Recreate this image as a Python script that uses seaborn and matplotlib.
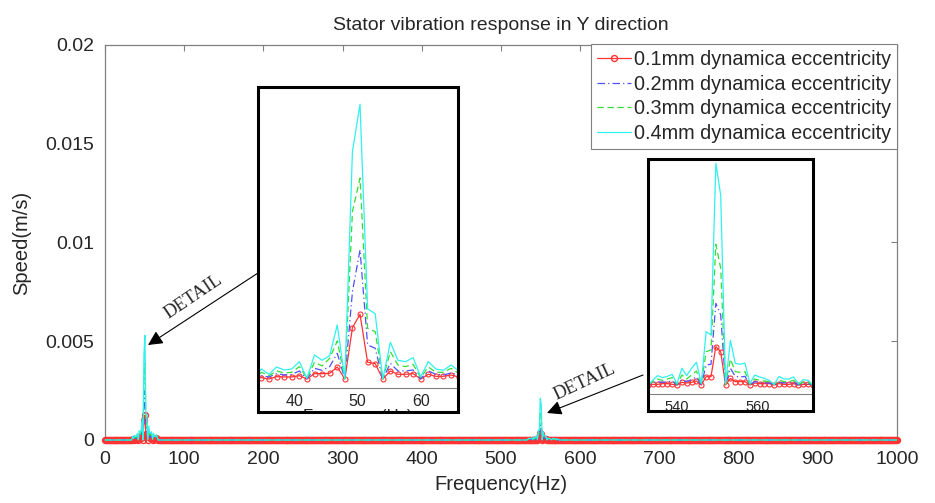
import numpy as np
import pandas as pd
import matplotlib
matplotlib.use('Agg')
import matplotlib.pyplot as plt
import matplotlib.patches as mpatches
from matplotlib.transforms import Bbox, TransformedBbox
import seaborn as sns

sns.set_style('white')
plt.rcParams['font.family'] = ['Liberation Sans', 'DejaVu Sans']

# spectrum resolution 1.2 Hz, 0 .. 999.6 Hz; speed is ~0 outside the two peaks
df_hz = 1.2
n_bins = 834

labels = ['0.1mm dynamica eccentricity', '0.2mm dynamica eccentricity',
          '0.3mm dynamica eccentricity', '0.4mm dynamica eccentricity']

# peak near 50 Hz, values in um/s
freq_50 = [34.8, 36.0, 37.2, 38.4, 39.6, 40.8, 42.0, 43.2, 44.4, 45.6, 46.8, 48.0, 49.2, 50.4,
           51.6, 52.8, 54.0, 55.2, 56.4, 57.6, 58.8, 60.0, 61.2, 62.4, 63.6, 64.8, 66.0]
red_50 = [26, 0, 45, 39, 39, 64, 0, 103, 103, 109, 231, 0, 990, 1247, 322, 296, 0, 154, 90, 90,
          103, 0, 90, 51, 51, 77, 39]
blue_50 = [64, 39, 103, 77, 90, 154, 0, 206, 167, 238, 495, 0, 1685, 2488, 656, 592, 0, 302, 154,
           154, 174, 0, 154, 90, 77, 116, 77]
green_50 = [129, 64, 154, 116, 129, 238, 13, 322, 251, 399, 733, 0, 3228, 3871, 977, 913, 0, 527,
            270, 238, 283, 26, 231, 129, 129, 206, 109]
cyan_50 = [193, 90, 231, 174, 193, 334, 13, 463, 360, 450, 1042, 0, 4385, 5298, 1350, 1260, 0, 707,
           360, 334, 412, 39, 334, 193, 167, 270, 154]

# peak near 550 Hz, values in um/s
freq_550 = [534.0, 535.2, 536.4, 537.6, 538.8, 540.0, 541.2, 542.4, 543.6, 544.8, 546.0, 547.2,
            548.4, 549.6, 550.8, 552.0, 553.2, 554.4, 555.6, 556.8, 558.0, 559.2, 560.4, 561.6,
            562.8, 564.0, 565.2, 566.4, 567.6, 568.8, 570.0, 571.2, 572.4]
red_550 = [6, 6, 13, 13, 6, 0, 25, 19, 25, 38, 0, 79, 79, 365, 317, 0, 63, 32, 32, 32, 0, 19, 13,
           13, 13, 0, 13, 6, 6, 13, 0, 6, 6]
blue_550 = [19, 32, 25, 32, 38, 0, 51, 32, 51, 76, 0, 190, 197, 777, 666, 0, 159, 82, 76, 82, 0, 32,
            25, 19, 19, 0, 25, 19, 19, 25, 0, 13, 13]
green_550 = [32, 57, 44, 57, 70, 6, 95, 57, 95, 133, 6, 317, 333, 1338, 1110, 6, 247, 127, 120, 127,
             6, 57, 44, 38, 32, 6, 48, 32, 32, 44, 6, 25, 25]
cyan_550 = [44, 89, 70, 82, 101, 13, 159, 89, 159, 216, 13, 507, 476, 2108, 1807, 13, 425, 206, 197,
            209, 13, 95, 76, 63, 44, 6, 82, 57, 57, 76, 13, 51, 44]

freq = np.round(np.arange(n_bins) * df_hz, 1)
peaks = [(red_50, red_550), (blue_50, blue_550), (green_50, green_550), (cyan_50, cyan_550)]
spectra = []
for p50, p550 in peaks:
    s = np.zeros(n_bins)
    s[np.rint(np.array(freq_50) / df_hz).astype(int)] = np.array(p50) * 1e-6
    s[np.rint(np.array(freq_550) / df_hz).astype(int)] = np.array(p550) * 1e-6
    spectra.append(s)
df = pd.DataFrame({'freq': freq})
for lab, s in zip(labels, spectra):
    df[lab] = s

styles = [dict(color='#ff3333', linestyle='-', marker='o'),
          dict(color='#5050ff', linestyle=(0, (6, 2.5, 1, 2.5)), marker=None),
          dict(color='#33dd33', linestyle=(0, (5, 3)), marker=None),
          dict(color='#30f0f0', linestyle='-', marker=None)]


def draw(ax, ms, mew, **extra):
    for lab, st in zip(labels, styles):
        kw = dict(linewidth=0.9, markersize=ms, markerfacecolor='none',
                  markeredgecolor=st['color'], markeredgewidth=mew)
        kw.update(extra)
        sns.lineplot(data=df, x='freq', y=lab, ax=ax, color=st['color'], linestyle=st['linestyle'],
                     marker=st['marker'], label=lab, legend=False, estimator=None, errorbar=None,
                     **kw)


W, H = 935, 503
fig = plt.figure(figsize=(W / 100, H / 100), dpi=100)
gray = '#808080'

ax = fig.add_axes([105 / W, 1 - 440 / H, 792 / W, 395 / H])
draw(ax, 4.3, 1.0, clip_on=False, zorder=3)
ax.set_xlim(0, 1000)
ax.set_ylim(0, 0.02)
ax.set_xticks(np.arange(0, 1001, 100))
ax.set_yticks([0, 0.005, 0.01, 0.015, 0.02])
ax.set_yticklabels(['0', '0.005', '0.01', '0.015', '0.02'])
ax.tick_params(direction='in', top=True, right=True, length=4, width=0.8, color=gray,
               labelsize=14, pad=8)
for sp in ax.spines.values():
    sp.set_color(gray)
    sp.set_linewidth(0.9)
ax.set_xlabel('Frequency(Hz)', fontsize=14.5, labelpad=5)
ax.set_ylabel('Speed(m/s)', fontsize=14.5, labelpad=10)
ax.set_title('Stator vibration response in Y direction', fontsize=14, pad=11)
leg = ax.legend(loc='upper right', bbox_to_anchor=(1.0, 1.003), borderaxespad=0, fontsize=14.3,
                handlelength=1.7, handletextpad=0.15, labelspacing=0.29, borderpad=0.3,
                numpoints=1, fancybox=False, framealpha=1, edgecolor=gray)
leg.get_frame().set_linewidth(0.8)
leg.set_zorder(20)

# zoomed insets: (frame px box, data area px box, xlim, ylim, ticks, label size)
insets = [
    ((258, 87, 458, 412), (258, 87, 458, 388), (34.26, 65.9), (-0.000174, 0.00563), [40, 50, 60], 11.5),
    ((648, 159, 813, 411), (648, 159, 813, 394), (532.84, 573.6), (-0.0000856, 0.00215), [540, 560], 10.5),
]
for i, (frame, area, xl, yl, ticks, fs) in enumerate(insets):
    fx0, fy0, fx1, fy1 = frame
    bg = mpatches.Rectangle((fx0 / W, 1 - fy1 / H), (fx1 - fx0) / W, (fy1 - fy0) / H,
                            transform=fig.transFigure, facecolor='white', edgecolor='none',
                            zorder=4, clip_on=False)
    ax.add_patch(bg)
    x0, y0, x1, y1 = area
    axi = fig.add_axes([x0 / W, 1 - y1 / H, (x1 - x0) / W, (y1 - y0) / H])
    axi.patch.set_alpha(0)
    draw(axi, 3.6, 0.8)
    axi.set_xlim(*xl)
    axi.set_ylim(*yl)
    axi.set_xticks(ticks)
    axi.set_yticks([])
    axi.tick_params(axis='x', direction='in', length=3, width=0.7, color=gray, labelsize=fs, pad=4)
    for side in ['left', 'right', 'top']:
        axi.spines[side].set_visible(False)
    axi.spines['bottom'].set_color(gray)
    axi.spines['bottom'].set_linewidth(0.8)
    axi.set_ylabel('')
    clip = TransformedBbox(Bbox([[fx0 / W, 1 - fy1 / H], [fx1 / W, 1 - fy0 / H]]), fig.transFigure)
    if i == 0:
        axi.set_xlabel('Frequency(Hz)', fontsize=12, labelpad=0.5)
        axi.xaxis.label.set_clip_box(clip)
        axi.xaxis.label.set_clip_on(True)
    else:
        axi.set_xlabel('')
    border = mpatches.Rectangle((fx0 / W, 1 - fy1 / H), (fx1 - fx0) / W, (fy1 - fy0) / H,
                                transform=fig.transFigure, facecolor='none', edgecolor='black',
                                linewidth=2.2, zorder=10, clip_on=False)
    axi.add_patch(border)

# DETAIL callouts
callouts = [((258, 273), (148, 345), (193, 297), 34),
            ((643, 375), (547, 413), (585, 382), 25)]
for (sx, sy), (ex, ey), (tx, ty), rot in callouts:
    ax.annotate('', xy=(ex / W, 1 - ey / H), xytext=(sx / W, 1 - sy / H),
                xycoords='figure fraction', textcoords='figure fraction',
                arrowprops=dict(arrowstyle='-|>', color='black', lw=0.8, mutation_scale=22,
                                shrinkA=0, shrinkB=0))
    fig.text(tx / W, 1 - ty / H, 'DETAIL', rotation=rot, ha='center', va='center',
             rotation_mode='anchor', family=['Liberation Serif', 'DejaVu Serif'], fontsize=13.5)

fig.savefig('out.png', dpi=100)
